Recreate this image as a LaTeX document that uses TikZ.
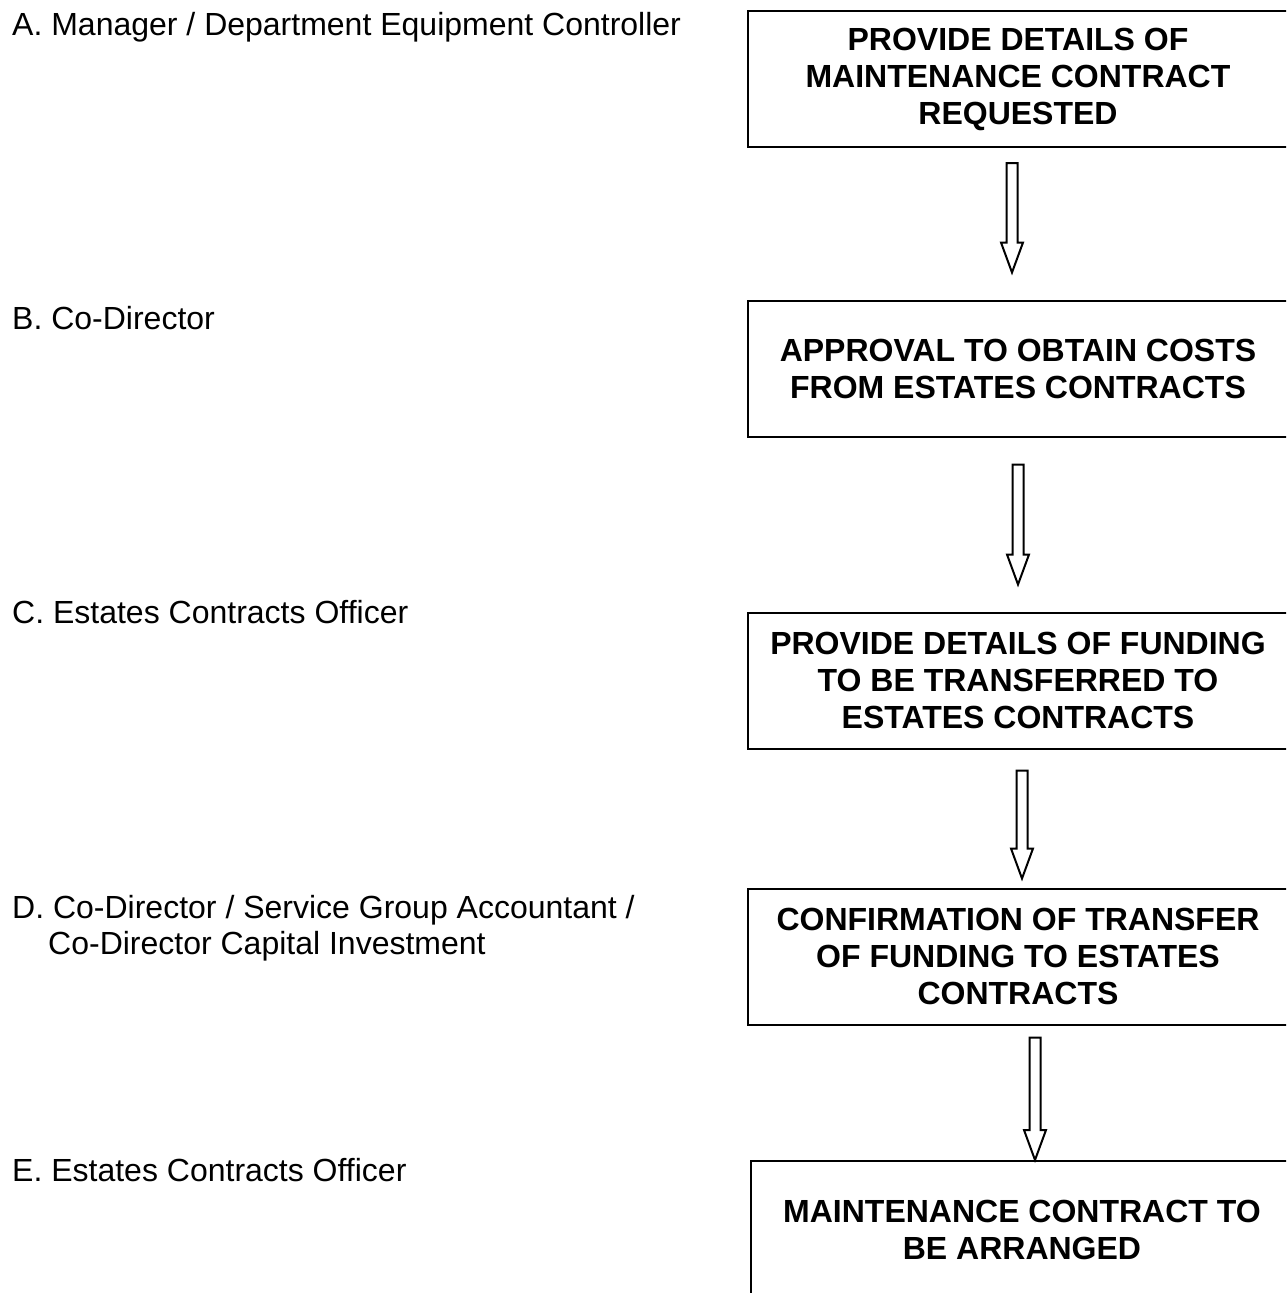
\documentclass[tikz,border=0pt]{standalone}
\usepackage{fontspec}
\setmainfont{Liberation Sans}
\usetikzlibrary{calc}

% hollow block arrow running straight down from #1 to the level of #2
\newcommand\hollowarrow[2]{%
  \draw[hollow] let \p1=(#1), \p2=(#2) in
    (\x1-5.5pt,\y1) -- (\x1+5.5pt,\y1) -- (\x1+5.5pt,\y2+30pt)
    -- (\x1+11pt,\y2+30pt) -- (\x1,\y2) -- (\x1-11pt,\y2+30pt)
    -- (\x1-5.5pt,\y2+30pt) -- cycle;}

\begin{document}
\begin{tikzpicture}[x=1pt,y=-1pt,
  role/.style={anchor=base west, inner sep=0pt, font=\fontsize{32}{36}\selectfont},
  stepbox/.style={draw, line width=2pt, minimum width=540pt, minimum height=136pt,
    inner sep=0pt, align=center, font=\fontsize{32}{37}\selectfont\bfseries},
  hollow/.style={draw, line width=2pt, fill=white, line join=miter}]
\useasboundingbox (0,0) rectangle (1286,1293);
\clip (0,0) rectangle (1286,1293);

% responsible roles
\node[role] (ra)  at (12,35)   {A. Manager / Department Equipment Controller};
\node[role] (rb)  at (12,329)  {B. Co-Director};
\node[role] (rc)  at (12,623)  {C. Estates Contracts Officer};
\node[role] (rd)  at (12,918)  {D. Co-Director / Service Group Accountant /};
\node[role] (rd2) at (48,954)  {Co-Director Capital Investment};
\node[role] (re)  at (12,1181) {E. Estates Contracts Officer};

% process steps
\node[stepbox] (s1) at (1018,79)    {PROVIDE DETAILS OF\\MAINTENANCE CONTRACT\\REQUESTED};
\node[stepbox] (s2) at (1018,368.5) {APPROVAL TO OBTAIN COSTS\\FROM ESTATES CONTRACTS};
\node[stepbox] (s3) at (1018,680.5) {PROVIDE DETAILS OF FUNDING\\TO BE TRANSFERRED TO\\ESTATES CONTRACTS};
\node[stepbox] (s4) at (1018,956.5) {CONFIRMATION OF TRANSFER\\OF FUNDING TO ESTATES\\CONTRACTS};
\node[stepbox, minimum width=542pt, minimum height=138pt] (s5) at (1022,1230)
  {MAINTENANCE CONTRACT TO\\BE ARRANGED};

% arrow ends
\coordinate (a1t) at ($(s1.south)+(-6,15)$);
\coordinate (a1h) at ($(s2.north)+(-6,-27)$);
\coordinate (a2t) at ($(s2.south)+(0,27)$);
\coordinate (a2h) at ($(s3.north)+(0,-27)$);
\coordinate (a3t) at ($(s3.south)+(4,21)$);
\coordinate (a3h) at ($(s4.north)+(4,-9)$);
\coordinate (a4t) at ($(s4.south)+(17,12)$);
\coordinate (a4h) at ($(s5.north)+(17,0)$);

\hollowarrow{a1t}{a1h}
\hollowarrow{a2t}{a2h}
\hollowarrow{a3t}{a3h}
\hollowarrow{a4t}{a4h}
\end{tikzpicture}
\end{document}
